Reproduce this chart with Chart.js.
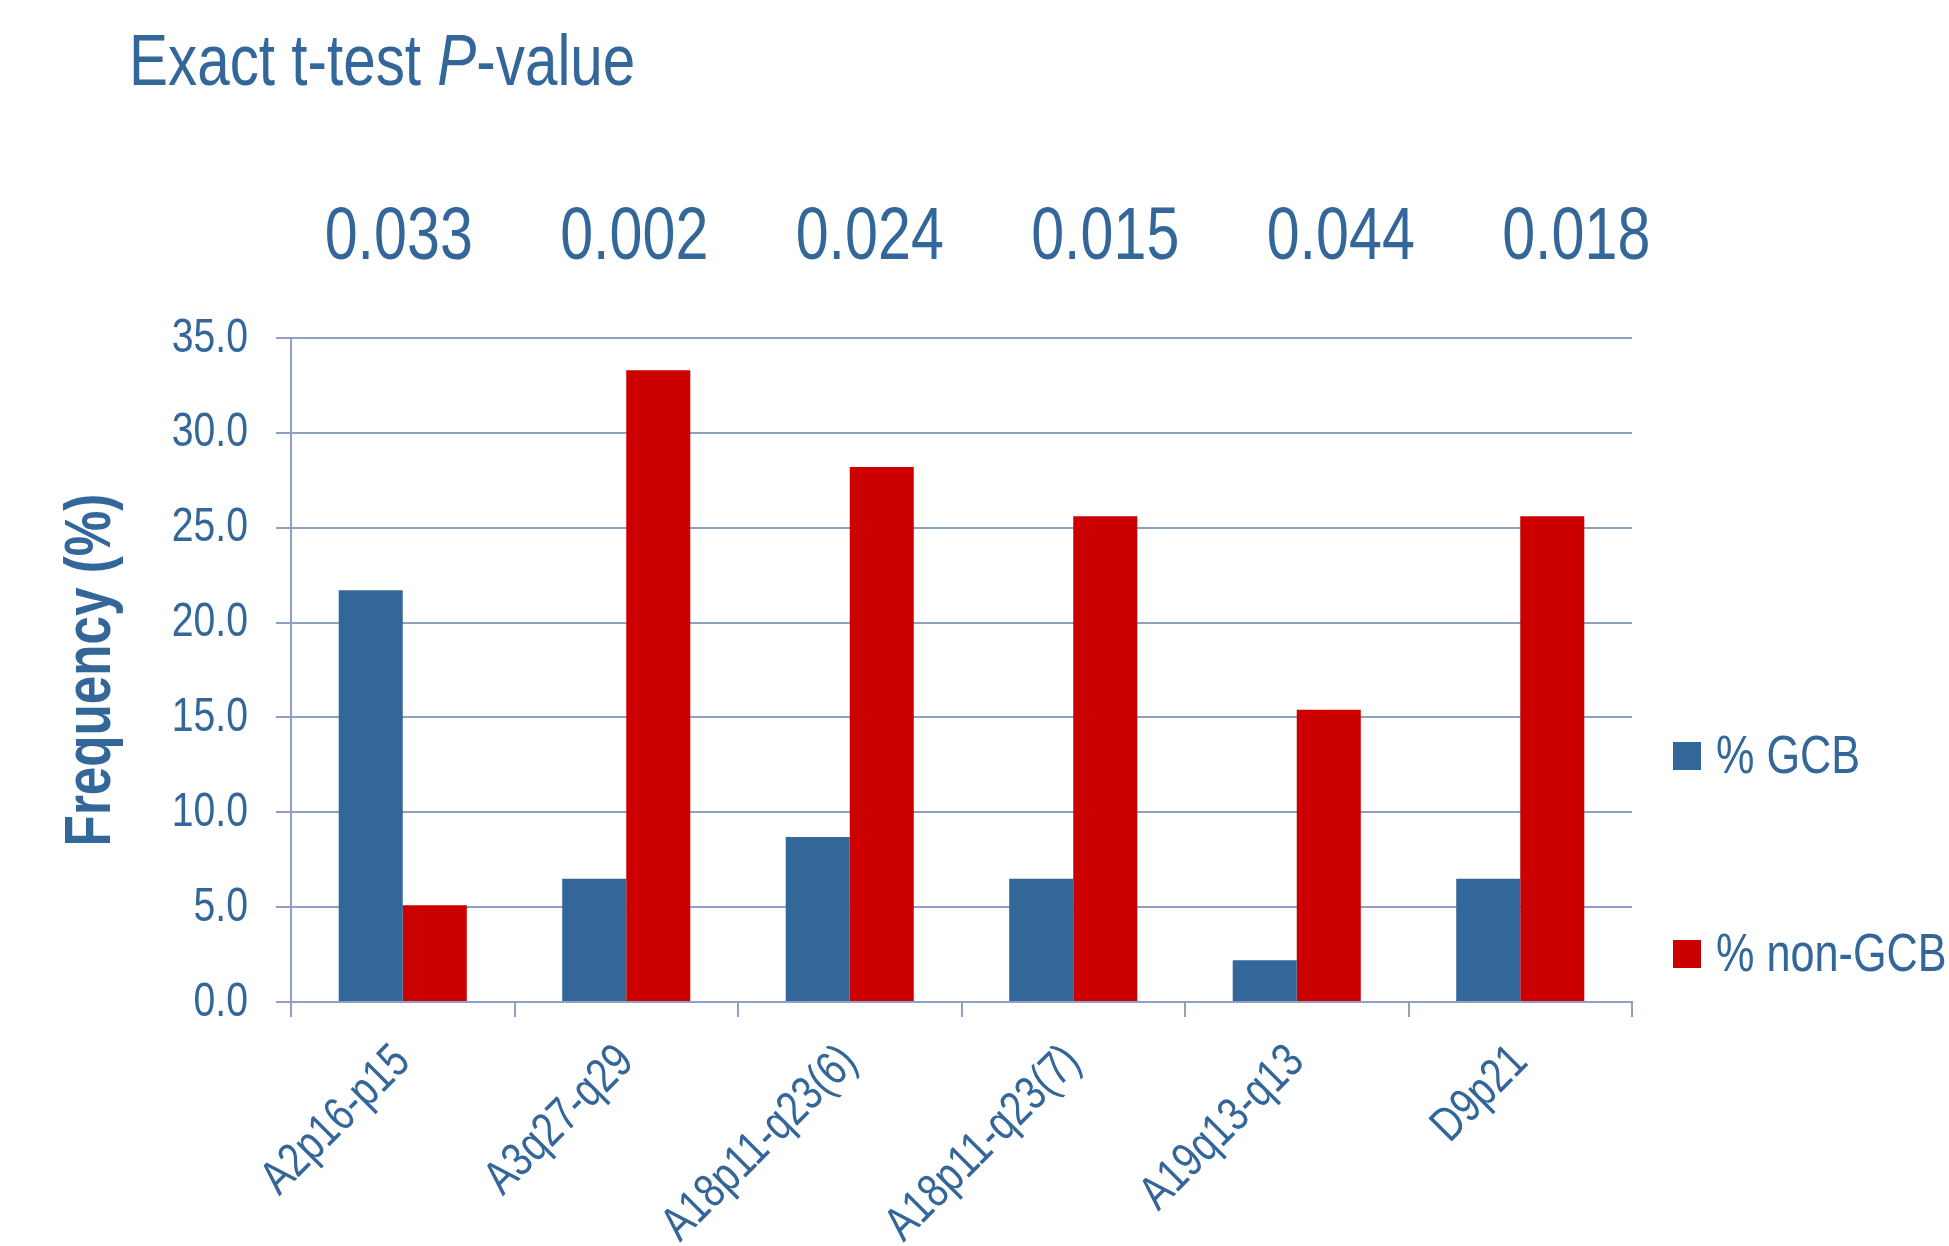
<!DOCTYPE html>
<html>
<head>
<meta charset="utf-8">
<script src="https://cdn.jsdelivr.net/npm/chart.js@4.4.0/dist/chart.umd.min.js"></script>
<style>
  html, body { margin: 0; padding: 0; background: #fff; }
  #wrap { width: 1949px; height: 1246px; }
</style>
</head>
<body>
<div id="wrap"><canvas id="chart" width="1949" height="1246"></canvas></div>
<script>
// data
var regions = ['A2p16-p15', 'A3q27-q29', 'A18p11-q23(6)', 'A18p11-q23(7)', 'A19q13-q13', 'D9p21'];
var gcb = [21.7, 6.5, 8.7, 6.5, 2.2, 6.5];
var nonGcb = [5.1, 33.3, 28.2, 25.6, 15.4, 25.6];
var pValues = ['0.033', '0.002', '0.024', '0.015', '0.044', '0.018'];

var BLUE = '#336699';
var RED = '#CC0000';
var GRID = '#8FA1C3';
var FONT = '"Liberation Sans", Arial, sans-serif';
var NARROW = 0.8; // no Arial Narrow installed, so squeeze the regular face

// draw text squeezed horizontally around its anchor point
function narrowText(ctx, draw, text, x, y) {
    ctx.save();
    ctx.translate(x, y);
    ctx.scale(NARROW, 1);
    draw.call(ctx, text, 0, 0);
    ctx.restore();
}

// everything Chart.js writes (ticks, axis title) goes through the squeeze
var squeeze = {
    id: 'squeeze',
    beforeDraw: function (chart) {
        var ctx = chart.ctx;
        var orig = CanvasRenderingContext2D.prototype.fillText;
        ctx.fillText = function (t, x, y) { narrowText(ctx, orig, t, x, y); };
    },
    afterDraw: function (chart) {
        delete chart.ctx.fillText;
    }
};

// title, p-values and legend
var extras = {
    id: 'extras',
    afterDraw: function (chart) {
        var ctx = chart.ctx;
        var area = chart.chartArea;
        var x = chart.scales.x;
        var fill = CanvasRenderingContext2D.prototype.fillText;
        ctx.save();
        ctx.fillStyle = BLUE;
        ctx.textBaseline = 'alphabetic';

        // title with italic P
        ctx.textAlign = 'left';
        var tx = 129, ty = 85;
        var parts = [['Exact t-test ', ''], ['P', 'italic '], ['-value', '']];
        parts.forEach(function (p) {
            ctx.font = p[1] + '73px ' + FONT;
            narrowText(ctx, fill, p[0], tx, ty);
            tx += ctx.measureText(p[0]).width * NARROW;
        });

        // p-values above each group
        ctx.textAlign = 'center';
        ctx.font = '74px ' + FONT;
        pValues.forEach(function (v, i) {
            narrowText(ctx, fill, v, x.getPixelForValue(i) + 12 * i - 4, 259);
        });

        // legend
        ctx.textAlign = 'left';
        ctx.textBaseline = 'middle';
        ctx.font = '54px ' + FONT;
        var ys = [area.top + 418, area.top + 616];
        chart.data.datasets.forEach(function (ds, i) {
            ctx.fillStyle = ds.backgroundColor;
            ctx.fillRect(area.right + 41, ys[i] - 14, 28, 28);
            ctx.fillStyle = BLUE;
            narrowText(ctx, fill, ds.label, area.right + 84, ys[i] + 2);
        });
        ctx.restore();
    }
};

var ctx = document.getElementById('chart');
var chart = new Chart(ctx, {
    type: 'bar',
    data: {
        labels: regions,
        datasets: [{
            label: '% GCB',
            data: gcb,
            backgroundColor: BLUE,
            borderWidth: 0
        }, {
            label: '% non-GCB',
            data: nonGcb,
            backgroundColor: RED,
            borderWidth: 0
        }]
    },
    options: {
        responsive: false,
        animation: false,
        layout: {
            padding: { top: 338, right: 317, bottom: 0, left: 0 }
        },
        datasets: {
            bar: { categoryPercentage: 0.573, barPercentage: 1.0 }
        },
        scales: {
            x: {
                grid: {
                    display: true,
                    drawOnChartArea: false,
                    drawTicks: true,
                    tickLength: 15,
                    color: GRID,
                    lineWidth: 2
                },
                border: { display: true, color: GRID, width: 2 },
                ticks: {
                    autoSkip: false,
                    maxRotation: 45,
                    minRotation: 45,
                    padding: 17,
                    color: BLUE,
                    font: { family: FONT, size: 48 }
                },
                afterFit: function (scale) { scale.height = 244; }
            },
            y: {
                min: 0,
                max: 35,
                ticks: {
                    stepSize: 5,
                    padding: 28,
                    color: BLUE,
                    font: { family: FONT, size: 49 },
                    callback: function (v) { return v.toFixed(1); }
                },
                grid: {
                    color: GRID,
                    lineWidth: 2,
                    tickLength: 15
                },
                border: { display: true, color: GRID, width: 2 },
                title: {
                    display: true,
                    text: 'Frequency (%)',
                    color: BLUE,
                    font: { family: FONT, size: 64, weight: 'bold' },
                    padding: { top: 54, bottom: 0 }
                },
                afterFit: function (scale) { scale.width = 291; }
            }
        },
        plugins: {
            legend: { display: false },
            tooltip: { enabled: false }
        }
    },
    plugins: [squeeze, extras]
});
</script>
</body>
</html>
